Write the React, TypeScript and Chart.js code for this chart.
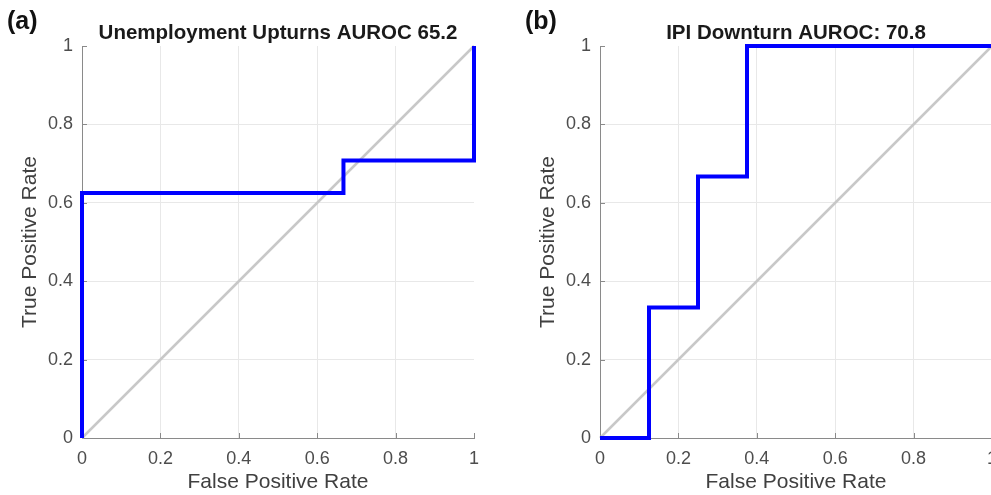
import React, { useEffect, useRef } from "react";
import { Chart, registerables } from "chart.js";

Chart.register(...registerables);

// ---- data ----
const fprA = [0, 0, 0.667, 0.667, 1, 1];
const tprA = [0, 0.625, 0.625, 0.708, 0.708, 1];
const fprB = [0, 0.125, 0.125, 0.25, 0.25, 0.375, 0.375, 1];
const tprB = [0, 0, 0.333, 0.333, 0.667, 0.667, 1, 1];
const chanceX = [0, 1];
const chanceY = [0, 1];
const tickValues = [0, 0.2, 0.4, 0.6, 0.8, 1];
const tickLabels = ["0", "0.2", "0.4", "0.6", "0.8", "1"];
const titles = ["Unemployment Upturns AUROC 65.2", "IPI Downturn AUROC: 70.8"];
const panelLabels = ["(a)", "(b)"];
const xTitle = "False Positive Rate";
const yTitle = "True Positive Rate";

const FONT = "'Liberation Sans', Arial, Helvetica, sans-serif";

const labelFor = (v: number) => {
  const i = tickValues.findIndex((t) => Math.abs(t - v) < 1e-6);
  return i >= 0 ? tickLabels[i] : "";
};

const decorPlugin = {
  id: "decor",
  beforeDatasetsDraw(chart: any) {
    const { ctx, chartArea, scales } = chart;
    const x = scales.x;
    const y = scales.y;
    ctx.save();
    ctx.strokeStyle = "#8a8a8a";
    ctx.lineWidth = 1;
    ctx.beginPath();
    tickValues.forEach((v) => {
      const px = Math.round(x.getPixelForValue(v)) + 0.5;
      ctx.moveTo(px, chartArea.bottom);
      ctx.lineTo(px, chartArea.bottom - 5);
      const py = Math.round(y.getPixelForValue(v)) + 0.5;
      ctx.moveTo(chartArea.left, py);
      ctx.lineTo(chartArea.left + 5, py);
    });
    ctx.stroke();
    ctx.restore();
  },
  afterDraw(chart: any, _args: any, opts: any) {
    const { ctx, chartArea } = chart;
    ctx.save();
    ctx.fillStyle = "#1a1a1a";
    ctx.textBaseline = "middle";
    ctx.textAlign = "center";
    ctx.font = `bold 20.5px ${FONT}`;
    ctx.fillText(opts.title, (chartArea.left + chartArea.right) / 2, 33);
    ctx.textAlign = "left";
    ctx.fillStyle = "#111";
    ctx.font = `bold 25px ${FONT}`;
    ctx.fillText(opts.label, 7, 22);
    ctx.restore();
  },
};

function RocPanel({ fpr, tpr, title, label, left }: any) {
  const ref = useRef<HTMLCanvasElement>(null);
  useEffect(() => {
    const gridColor = (c: any) =>
      c.tick && c.tick.value >= 1 ? "rgba(0,0,0,0)" : "#e8e8e8";
    const chart = new Chart(ref.current as HTMLCanvasElement, {
      type: "scatter",
      data: {
        datasets: [
          {
            data: fpr.map((x: number, i: number) => ({ x, y: tpr[i] })),
            showLine: true,
            borderColor: "#0000ff",
            borderWidth: 4,
            pointRadius: 0,
            fill: false,
            clip: false as any,
            borderJoinStyle: "miter",
            borderCapStyle: "butt",
          },
          {
            data: chanceX.map((x, i) => ({ x, y: chanceY[i] })),
            showLine: true,
            borderColor: "#c8c8c8",
            borderWidth: 2.5,
            pointRadius: 0,
            fill: false,
            clip: false as any,
          },
        ],
      },
      options: {
        responsive: false,
        animation: false,
        devicePixelRatio: 1,
        events: [],
        layout: { padding: { top: 46, right: 26, bottom: 0, left: 0 } },
        plugins: {
          legend: { display: false },
          tooltip: { enabled: false },
          title: { display: false },
          decor: { title, label },
        } as any,
        scales: {
          x: {
            type: "linear",
            min: 0,
            max: 1,
            afterBuildTicks: (s: any) => {
              s.ticks = tickValues.map((v) => ({ value: v }));
            },
            afterFit: (s: any) => {
              s.height = 57;
              s.paddingLeft = 0;
              s.paddingRight = 0;
            },
            ticks: {
              callback: (v: any) => labelFor(Number(v)),
              padding: 10,
              color: "#4d4d4d",
              font: { size: 18, family: FONT },
              maxRotation: 0,
              autoSkip: false,
            },
            grid: { color: gridColor, drawTicks: false, lineWidth: 1 },
            border: { display: true, color: "#8a8a8a", width: 1 },
            title: {
              display: true,
              text: xTitle,
              color: "#404040",
              font: { size: 21, family: FONT },
              padding: { top: 0, bottom: 0 },
            },
          },
          y: {
            type: "linear",
            min: 0,
            max: 1,
            afterBuildTicks: (s: any) => {
              s.ticks = tickValues.map((v) => ({ value: v }));
            },
            afterFit: (s: any) => {
              s.width = 82;
              s.paddingTop = 0;
              s.paddingBottom = 0;
            },
            ticks: {
              callback: (v: any) => labelFor(Number(v)),
              padding: 9,
              color: "#4d4d4d",
              font: { size: 18, family: FONT },
              autoSkip: false,
            },
            grid: { color: gridColor, drawTicks: false, lineWidth: 1 },
            border: { display: true, color: "#8a8a8a", width: 1 },
            title: {
              display: true,
              text: yTitle,
              color: "#404040",
              font: { size: 21, family: FONT },
              padding: { top: 18, bottom: 0 },
            },
          },
        },
      } as any,
      plugins: [decorPlugin as any],
    });
    return () => chart.destroy();
  }, []);
  return (
    <canvas
      ref={ref}
      width={500}
      height={495}
      style={{ position: "absolute", left, top: 0, width: 500, height: 495 }}
    />
  );
}

export default function App() {
  return (
    <div
      style={{
        position: "fixed",
        left: 0,
        top: 0,
        width: 991,
        height: 495,
        overflow: "hidden",
        background: "#fff",
      }}
    >
      <RocPanel fpr={fprA} tpr={tprA} title={titles[0]} label={panelLabels[0]} left={0} />
      <RocPanel fpr={fprB} tpr={tprB} title={titles[1]} label={panelLabels[1]} left={518} />
    </div>
  );
}
